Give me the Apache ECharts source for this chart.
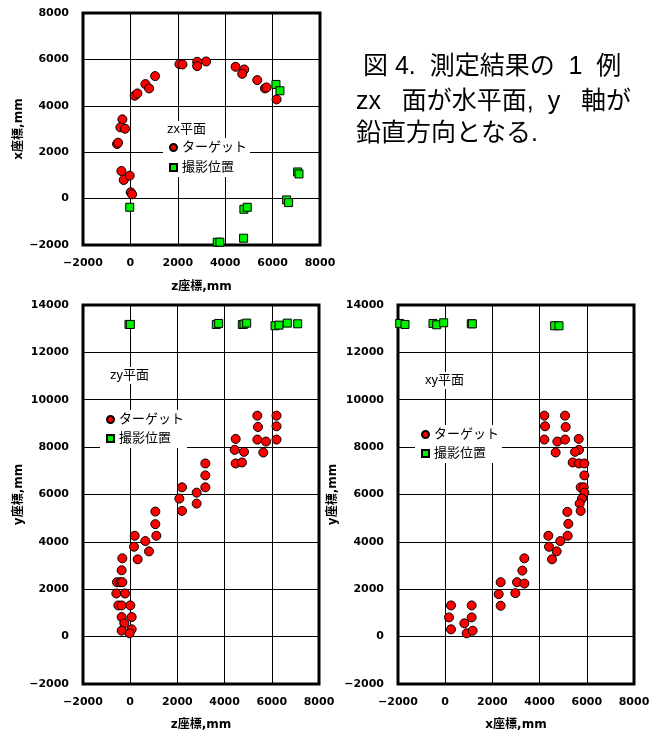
<!DOCTYPE html>
<html>
<head>
<meta charset="utf-8">
<script src="https://cdn.jsdelivr.net/npm/echarts@6/dist/echarts.min.js"></script>
<style>
html,body{margin:0;padding:0;background:#fff;}
#chart{width:659px;height:736px;}
</style>
</head>
<body>
<div id="chart"></div>
<script>
// ---- data ----
// zx plane: [z, x]
const zxTargets = [
  [-563,2353],[-520,2410],[-338,3415],[-423,3070],[-225,3013],
  [-380,1190],[-282,803],[-28,990],[14,273],[70,186],
  [183,4433],[296,4534],[634,4935],[789,4749],[1042,5280],
  [2070,5796],[2197,5782],[2817,5897],[2817,5710],[3197,5911],
  [4437,5681],[4803,5567],[4718,5380],[5352,5107],[5676,4749],
  [5746,4792],[6169,4275]
];
const zxCameras = [
  [-28,-373],[4789,-459],[4930,-373],[4775,-1707],[3662,-1880],
  [3775,-1880],[6141,4921],[6310,4648],[6592,-57],[6676,-172],
  [7056,1148],[7113,1062]
];
// zy plane: [z, y]
const zyTargets = [
  [-559,2297],[-418,2297],[-333,2297],[-588,1821],[-220,1821],
  [-503,1317],[-362,1317],[6,1317],[-362,826],[62,826],
  [-249,560],[-362,252],[62,308],[-23,140],[-333,3305],
  [-362,2801],[189,4258],[161,3795],[316,3263],[641,4034],
  [797,3599],[1065,5280],[1065,4748],[1107,4258],[2082,5826],
  [2195,6303],[2195,5308],[2816,5616],[2816,6078],[3184,7311],
  [3184,6807],[3184,6303],[4469,8347],[4427,7885],[4469,7311],
  [4737,7353],[4822,7801],[5387,9328],[5415,8851],[5387,8319],
  [5754,8235],[5641,7773],[6200,9328],[6200,8880],[6200,8319]
];
const zyCameras = [
  [-51,13179],[6,13179],[3650,13179],[3749,13221],[4752,13179],
  [4822,13193],[4935,13235],[6136,13123],[6305,13151],[6659,13235],
  [7097,13207]
];
// xy plane: [x, y]
const xyTargets = [
  [245,1317],[161,812],[245,308],[810,560],[909,140],
  [1121,1317],[1121,812],[1164,252],[2266,1793],[2351,2297],
  [2351,1303],[2972,1835],[3043,2297],[3269,2787],[3354,3305],
  [3354,2241],[4371,4258],[4399,3795],[4526,3263],[4724,3599],
  [4879,4034],[5190,4258],[5218,4762],[5176,5266],[4201,9328],
  [4230,8880],[4201,8319],[4752,8235],[4681,7773],[5077,9328],
  [5105,8851],[5077,8319],[5656,8347],[5670,7885],[5501,7801],
  [5402,7353],[5670,7311],[5896,7311],[5896,6807],[5741,6303],
  [5868,6303],[5896,6078],[5797,5826],[5698,5616],[5741,5308]
];
const xyCameras = [
  [-1929,13221],[-1703,13179],[-517,13221],[-362,13165],[-65,13249],
  [1107,13207],[1150,13207],[4639,13123],[4822,13123]
];
const seriesNames = ['ターゲット','撮影位置'];
const planeLabels = ['zx平面','zy平面','xy平面'];
const axisNames = { top: ['z座標,mm','x座標,mm'], left: ['z座標,mm','y座標,mm'], right: ['x座標,mm','y座標,mm'] };
const captionLines = ['図 4.  測定結果の  1  例','zx   面が水平面,  y   軸が','鉛直方向となる.'];

// ---- styles ----
const tickFont = { fontFamily: 'DejaVu Sans', fontWeight: 'bold', fontSize: 11, color: '#000' };
const nameFont = { fontFamily: "'DejaVu Sans','Noto Sans CJK JP'", fontWeight: 'bold', fontSize: 12, color: '#000' };
const jpFont = "'Liberation Sans','Noto Sans CJK JP'";
const fmt = v => v < 0 ? '\u2212' + Math.abs(v) : String(v);

function xAxis(idx, name, gap) {
  return {
    gridIndex: idx, type: 'value', min: -2000, max: 8000, interval: 2000,
    name: name, nameLocation: 'middle', nameGap: gap, nameTextStyle: nameFont,
    axisLine: { show: false }, axisTick: { show: false },
    axisLabel: Object.assign({ margin: 13, formatter: fmt }, tickFont),
    splitLine: { show: true, lineStyle: { color: '#000', width: 1 } }
  };
}
function yAxis(idx, name, max, gap) {
  return {
    gridIndex: idx, type: 'value', min: -2000, max: max, interval: 2000,
    name: name, nameLocation: 'middle', nameGap: gap, nameTextStyle: nameFont,
    axisLine: { show: false }, axisTick: { show: false },
    axisLabel: Object.assign({ margin: 14, formatter: fmt }, tickFont),
    splitLine: { show: true, lineStyle: { color: '#000', width: 1 } }
  };
}
const redStyle = { color: '#ff0000', borderColor: '#000', borderWidth: 1, opacity: 1 };
const greenStyle = { color: '#00ee00', borderColor: '#000', borderWidth: 1, opacity: 1 };
function targetSeries(idx, data) {
  return { type: 'scatter', name: seriesNames[0], xAxisIndex: idx, yAxisIndex: idx, data: data,
    symbol: 'circle', symbolSize: 9, itemStyle: redStyle, z: 3, silent: true };
}
function cameraSeries(idx, data) {
  return { type: 'scatter', name: seriesNames[1], xAxisIndex: idx, yAxisIndex: idx, data: data,
    symbol: 'rect', symbolSize: 8, itemStyle: greenStyle, z: 4, silent: true };
}
function legend(left, top, gap) {
  return {
    orient: 'vertical', left: left, top: top, itemGap: gap, itemWidth: 7, itemHeight: 7,
    backgroundColor: '#fff', padding: [3, 3, 3, 6], selectedMode: false,
    textStyle: { fontFamily: jpFont, fontSize: 13, color: '#000' },
    data: [{ name: seriesNames[0], icon: 'circle' }, { name: seriesNames[1], icon: 'rect' }]
  };
}
function title(text, left, top) {
  return { text: text, left: left, top: top, padding: [2, 4, 2, 4], backgroundColor: '#fff',
    textStyle: { fontFamily: jpFont, fontSize: 13, fontWeight: 'normal', color: '#000' } };
}

const gridBase = { show: true, borderColor: '#000', borderWidth: 3, backgroundColor: 'transparent', containLabel: false };
const option = {
  animation: false,
  backgroundColor: '#fff',
  grid: [
    Object.assign({ left: 83, top: 13, width: 237, height: 232 }, gridBase),
    Object.assign({ left: 83, top: 305, width: 236, height: 381 }, gridBase),
    Object.assign({ left: 398, top: 305, width: 236, height: 381 }, gridBase)
  ],
  xAxis: [ xAxis(0, axisNames.top[0], 36), xAxis(1, axisNames.left[0], 35), xAxis(2, axisNames.right[0], 35) ],
  yAxis: [ yAxis(0, axisNames.top[1], 8000, 57), yAxis(1, axisNames.left[1], 14000, 57), yAxis(2, axisNames.right[1], 14000, 59) ],
  title: [ title(planeLabels[0], 163, 121), title(planeLabels[1], 106, 367), title(planeLabels[2], 421, 372) ],
  legend: [ legend(163, 138, 7), legend(100, 410, 6), legend(415, 425, 6) ],
  series: [
    targetSeries(0, zxTargets), cameraSeries(0, zxCameras),
    targetSeries(1, zyTargets), cameraSeries(1, zyCameras),
    targetSeries(2, xyTargets), cameraSeries(2, xyCameras)
  ],
  graphic: captionLines.map((t, i) => ({
    type: 'text', left: i === 0 ? 363 : 356, top: [55, 90, 122][i],
    style: { text: t, fontFamily: jpFont, fontSize: 25, fill: '#000' }
  }))
};
const chart = echarts.init(document.getElementById('chart'), null, { renderer: 'canvas' });
chart.setOption(option);
</script>
</body>
</html>
